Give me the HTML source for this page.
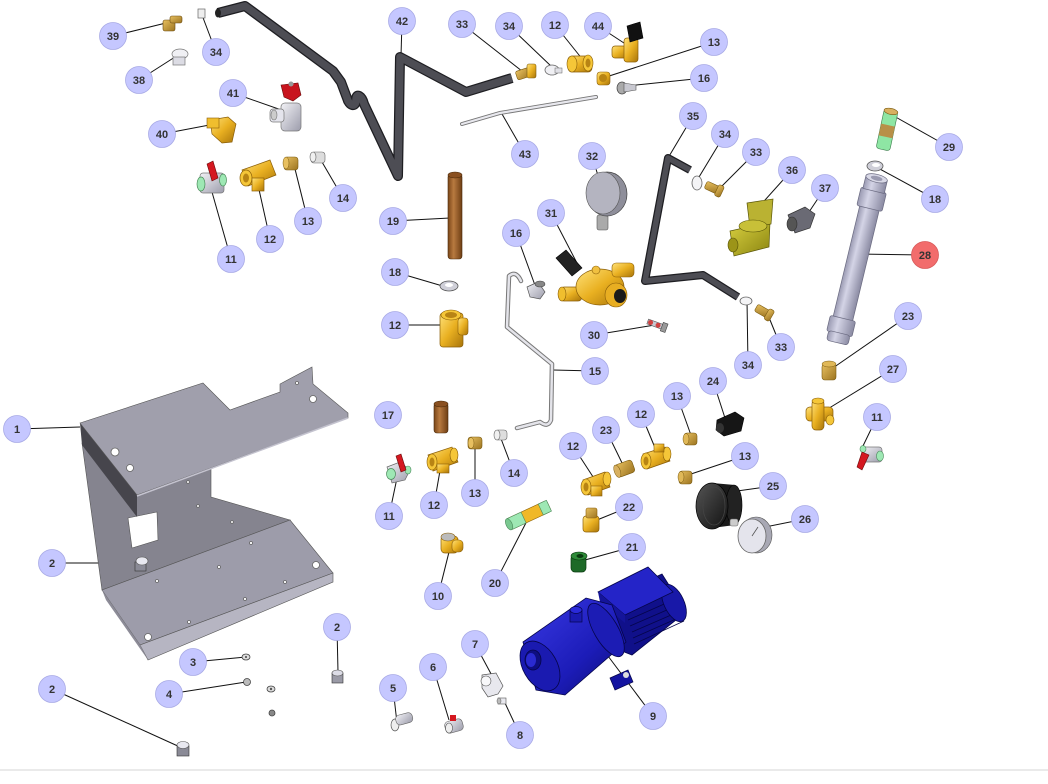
<!DOCTYPE html>
<html><head><meta charset="utf-8"><style>
html,body{margin:0;padding:0;background:#fff;}
svg{display:block;}
.c{fill:#c5c7ff;stroke:#a9abe6;stroke-width:0.8}
.r{fill:#f26c6c;stroke:#d85a5a;stroke-width:0.8}
.t{font-family:"Liberation Sans",sans-serif;font-weight:bold;font-size:11px;fill:#333;text-anchor:middle;}
.l{stroke:#111;stroke-width:1;fill:none}
.h{fill:#fff;stroke:#666;stroke-width:0.8}
</style></head><body>
<svg width="1048" height="784" viewBox="0 0 1048 784">
<defs>
<linearGradient id="br" x1="0" y1="0" x2="1" y2="1"><stop offset="0" stop-color="#ffe27a"/><stop offset=".5" stop-color="#e9b021"/><stop offset="1" stop-color="#a8740a"/></linearGradient>
<linearGradient id="br2" x1="0" y1="0" x2="1" y2="1"><stop offset="0" stop-color="#e8c060"/><stop offset="1" stop-color="#9c7420"/></linearGradient>
<linearGradient id="gy" x1="0" y1="0" x2="1" y2="1"><stop offset="0" stop-color="#f2f2f6"/><stop offset="1" stop-color="#9c9cab"/></linearGradient>
<linearGradient id="col" x1="0" y1="0" x2="1" y2="0"><stop offset="0" stop-color="#9a9ab2"/><stop offset=".35" stop-color="#d4d4e6"/><stop offset="1" stop-color="#8a8aa2"/></linearGradient>
<linearGradient id="bl" x1="0" y1="0" x2="1" y2="1"><stop offset="0" stop-color="#3a3ae6"/><stop offset=".6" stop-color="#1c1cb8"/><stop offset="1" stop-color="#0c0c70"/></linearGradient>
<linearGradient id="ol" x1="0" y1="0" x2="1" y2="1"><stop offset="0" stop-color="#d8d040"/><stop offset="1" stop-color="#8a8410"/></linearGradient>
<linearGradient id="cu" x1="0" y1="0" x2="1" y2="0"><stop offset="0" stop-color="#7a4618"/><stop offset=".4" stop-color="#b87a40"/><stop offset="1" stop-color="#6e3e14"/></linearGradient>
<linearGradient id="bk" x1="0" y1="0" x2="1" y2="1"><stop offset="0" stop-color="#555"/><stop offset="1" stop-color="#111"/></linearGradient>
</defs>

<line x1="0" y1="770" x2="1048" y2="770" stroke="#e4e4e4" stroke-width="1.5"/>

<g class="l">
<line x1="113" y1="36" x2="170" y2="22"/>
<line x1="216" y1="52" x2="202" y2="15"/>
<line x1="139" y1="80" x2="175" y2="57"/>
<line x1="233" y1="93" x2="290" y2="113"/>
<line x1="162" y1="134" x2="220" y2="123"/>
<line x1="231" y1="259" x2="210" y2="185"/>
<line x1="270" y1="239" x2="258" y2="185"/>
<line x1="308" y1="221" x2="294" y2="165"/>
<line x1="343" y1="198" x2="322" y2="162"/>
<line x1="402" y1="21" x2="401" y2="56"/>
<line x1="462" y1="24" x2="527" y2="75"/>
<line x1="509" y1="26" x2="552" y2="67"/>
<line x1="555" y1="25" x2="583" y2="60"/>
<line x1="598" y1="26" x2="627" y2="45"/>
<line x1="714" y1="42" x2="603" y2="78"/>
<line x1="704" y1="78" x2="626" y2="86"/>
<line x1="525" y1="154" x2="502" y2="114"/>
<line x1="693" y1="116" x2="668" y2="158"/>
<line x1="725" y1="134" x2="696" y2="182"/>
<line x1="756" y1="152" x2="718" y2="190"/>
<line x1="792" y1="170" x2="756" y2="210"/>
<line x1="825" y1="188" x2="805" y2="218"/>
<line x1="592" y1="156" x2="607" y2="205"/>
<line x1="551" y1="213" x2="578" y2="265"/>
<line x1="516" y1="233" x2="536" y2="288"/>
<line x1="393" y1="221" x2="450" y2="218"/>
<line x1="395" y1="272" x2="446" y2="287"/>
<line x1="395" y1="325" x2="450" y2="325"/>
<line x1="594" y1="335" x2="655" y2="325"/>
<line x1="595" y1="371" x2="553" y2="370"/>
<line x1="949" y1="147" x2="892" y2="115"/>
<line x1="935" y1="199" x2="878" y2="168"/>
<line x1="925" y1="255" x2="857" y2="254"/>
<line x1="908" y1="316" x2="830" y2="370"/>
<line x1="893" y1="369" x2="826" y2="410"/>
<line x1="877" y1="417" x2="862" y2="448"/>
<line x1="748" y1="365" x2="747" y2="300"/>
<line x1="781" y1="347" x2="768" y2="315"/>
<line x1="713" y1="381" x2="725" y2="418"/>
<line x1="677" y1="396" x2="692" y2="438"/>
<line x1="641" y1="414" x2="658" y2="455"/>
<line x1="606" y1="430" x2="624" y2="467"/>
<line x1="573" y1="446" x2="597" y2="483"/>
<line x1="745" y1="456" x2="685" y2="476"/>
<line x1="514" y1="473" x2="500" y2="436"/>
<line x1="475" y1="493" x2="475" y2="445"/>
<line x1="434" y1="505" x2="441" y2="465"/>
<line x1="389" y1="516" x2="397" y2="478"/>
<line x1="773" y1="486" x2="730" y2="492"/>
<line x1="805" y1="519" x2="760" y2="528"/>
<line x1="629" y1="507" x2="597" y2="520"/>
<line x1="632" y1="547" x2="585" y2="560"/>
<line x1="495" y1="583" x2="530" y2="515"/>
<line x1="438" y1="596" x2="450" y2="548"/>
<line x1="17" y1="429" x2="80" y2="427"/>
<line x1="52" y1="563" x2="140" y2="563"/>
<line x1="337" y1="627" x2="338" y2="672"/>
<line x1="193" y1="662" x2="246" y2="657"/>
<line x1="169" y1="694" x2="246" y2="682"/>
<line x1="52" y1="689" x2="180" y2="747"/>
<line x1="393" y1="688" x2="397" y2="723"/>
<line x1="433" y1="667" x2="449" y2="720"/>
<line x1="475" y1="644" x2="497" y2="685"/>
<line x1="520" y1="735" x2="505" y2="703"/>
<line x1="653" y1="716" x2="605" y2="652"/>
</g>

<!-- Part 1 plate -->
<polygon points="82,443 211,420 211,497 290,520 102,590" fill="#85848f" stroke="#555" stroke-width="0.6"/>
<polygon points="128,518 157,512 158,540 132,548" fill="#fff" stroke="#555" stroke-width="0.6"/>
<polygon points="80,423 137,495 137,517 82,445" fill="#46454c"/>
<polygon points="80,423 203,383 230,410 280,392 280,384 312,367 313,384 348,413 348,418 137,495" fill="#a09fac" stroke="#555" stroke-width="0.6"/>
<line x1="137" y1="496" x2="348" y2="418" stroke="#c4c3cf" stroke-width="1.5"/>
<polygon points="102,590 290,520 333,573 140,645" fill="#9d9caa" stroke="#555" stroke-width="0.6"/>
<polygon points="140,645 333,573 333,582 148,660" fill="#b6b5c2" stroke="#555" stroke-width="0.6"/>
<polygon points="102,590 140,645 148,660 106,600" fill="#8d8c98"/>
<circle cx="115" cy="452" r="4" class="h"/><circle cx="130" cy="468" r="3.5" class="h"/><circle cx="313" cy="399" r="3.5" class="h"/>
<circle cx="297" cy="383" r="1.5" class="h"/>
<circle cx="188" cy="482" r="1.4" class="h"/><circle cx="198" cy="506" r="1.4" class="h"/><circle cx="232" cy="522" r="1.4" class="h"/>
<circle cx="148" cy="637" r="3.5" class="h"/><circle cx="316" cy="565" r="3.5" class="h"/>
<circle cx="157" cy="581" r="1.5" class="h"/><circle cx="219" cy="567" r="1.5" class="h"/><circle cx="251" cy="543" r="1.5" class="h"/>
<circle cx="285" cy="582" r="1.5" class="h"/><circle cx="245" cy="599" r="1.5" class="h"/><circle cx="189" cy="622" r="1.5" class="h"/>
<g><rect x="135" y="562" width="11" height="9" fill="#8a8a96" stroke="#333" stroke-width="0.6"/><ellipse cx="142" cy="561" rx="6" ry="4" fill="#e8e8f0" stroke="#555" stroke-width="0.6"/></g>
<g><rect x="332" y="673" width="11" height="10" fill="#9a9aa6" stroke="#333" stroke-width="0.6"/><ellipse cx="337.5" cy="673" rx="5.5" ry="3" fill="#dcdce6" stroke="#555" stroke-width="0.6"/></g>
<g><rect x="177" y="746" width="12" height="10" fill="#8a8a96" stroke="#333" stroke-width="0.6"/><ellipse cx="183" cy="745" rx="6" ry="3.5" fill="#e8e8f0" stroke="#555" stroke-width="0.6"/></g>
<ellipse cx="246" cy="657" rx="4" ry="3" fill="#ddd" stroke="#444" stroke-width="0.8"/><circle cx="246" cy="657" r="1" fill="#444"/>
<ellipse cx="247" cy="682" rx="3.5" ry="3.5" fill="#bbb" stroke="#444" stroke-width="0.8"/>
<ellipse cx="271" cy="689" rx="4" ry="3" fill="#ddd" stroke="#444" stroke-width="0.8"/><circle cx="271" cy="689" r="1.2" fill="#555"/>
<circle cx="272" cy="713" r="3" fill="#888" stroke="#444" stroke-width="0.8"/>

<!-- Hoses -->
<path d="M218,13 L245,6 L333,71 L341,82 L347,98 C349,106 356,108 356,100 C356,92 362,96 364,104 L398,176 L400,57 L466,92 L512,78" fill="none" stroke="#1e1e22" stroke-width="10" stroke-linejoin="round"/>
<path d="M218,13 L245,6 L333,71 L341,82 L347,98 C349,106 356,108 356,100 C356,92 362,96 364,104 L398,176 L400,57 L466,92 L512,78" fill="none" stroke="#4d4d54" stroke-width="7.5" stroke-linejoin="round"/>
<ellipse cx="218" cy="13" rx="3" ry="4.5" fill="#222"/>
<path d="M690,170 L668,158 L645,281 L703,275 L738,297" fill="none" stroke="#1e1e22" stroke-width="8" stroke-linejoin="round"/>
<path d="M690,170 L668,158 L645,281 L703,275 L738,297" fill="none" stroke="#4d4d54" stroke-width="5.5" stroke-linejoin="round"/>
<path d="M462,124 L500,113 L596,97" fill="none" stroke="#777" stroke-width="4" stroke-linecap="round"/>
<path d="M462,124 L500,113 L596,97" fill="none" stroke="#e8e8ee" stroke-width="2.2" stroke-linecap="round"/>
<path d="M521,281 Q516,270 509,276 L507,327 L552,364 L551,420 Q548,428 540,422 L517,428" fill="none" stroke="#777" stroke-width="4.5" stroke-linecap="round" stroke-linejoin="round"/>
<path d="M521,281 Q516,270 509,276 L507,327 L552,364 L551,420 Q548,428 540,422 L517,428" fill="none" stroke="#e4e4ea" stroke-width="2.5" stroke-linecap="round" stroke-linejoin="round"/>

<!-- top-left parts -->
<g><rect x="163" y="20" width="12" height="11" rx="2" fill="url(#br2)" stroke="#6a4a10" stroke-width="0.6"/><rect x="170" y="16" width="12" height="7" rx="2" fill="url(#br2)" stroke="#6a4a10" stroke-width="0.6"/></g>
<rect x="198" y="9" width="7" height="9" fill="#eee" stroke="#666" stroke-width="0.7"/>
<g><ellipse cx="180" cy="54" rx="8" ry="5" fill="#f0f0f4" stroke="#777" stroke-width="0.7"/><rect x="173" y="57" width="12" height="8" fill="#dcdce4" stroke="#777" stroke-width="0.7"/></g>
<g><rect x="281" y="103" width="20" height="28" rx="4" fill="url(#gy)" stroke="#777" stroke-width="0.7"/><rect x="270" y="109" width="14" height="13" rx="3" fill="#e4e4ec" stroke="#777" stroke-width="0.7"/><ellipse cx="274" cy="115" rx="3" ry="5" fill="#ccc" stroke="#777" stroke-width="0.6"/><path d="M281,85 L298,83 L301,95 L293,101 L284,97 Z" fill="#c8141e" stroke="#6a0a0a" stroke-width="0.6"/><circle cx="291" cy="84" r="2.5" fill="#999"/></g>
<g><path d="M210,120 L228,117 L236,124 L232,142 L222,143 L212,134 Z" fill="url(#br)" stroke="#8a5e08" stroke-width="0.7"/><rect x="207" y="118" width="12" height="10" fill="#f0be2e" stroke="#8a5e08" stroke-width="0.6"/></g>
<g><rect x="200" y="173" width="24" height="20" rx="3" fill="url(#gy)" stroke="#777" stroke-width="0.7"/><ellipse cx="201" cy="184" rx="4" ry="7" fill="#9ee8b4" stroke="#4a8a5a" stroke-width="0.7"/><ellipse cx="223" cy="180" rx="3.5" ry="6" fill="#9ee8b4" stroke="#4a8a5a" stroke-width="0.7"/><path d="M207,164 L213,161 L218,178 L212,181 Z" fill="#d41820" stroke="#6a0a0a" stroke-width="0.6"/></g>
<g><path d="M242,170 L270,160 L276,175 L248,186 Z" fill="url(#br)" stroke="#8a5e08" stroke-width="0.7"/><ellipse cx="246" cy="178" rx="6" ry="8" fill="#f5c638" stroke="#8a5e08" stroke-width="0.7"/><ellipse cx="246" cy="178" rx="3" ry="4.5" fill="#b88414"/><rect x="252" y="178" width="12" height="13" fill="url(#br)" stroke="#8a5e08" stroke-width="0.7"/></g>
<g><rect x="284" y="157" width="14" height="13" rx="3" fill="url(#br2)" stroke="#7a5a10" stroke-width="0.6"/><ellipse cx="286" cy="163" rx="3" ry="6" fill="#e8c060" stroke="#7a5a10" stroke-width="0.5"/></g>
<g><rect x="311" y="152" width="14" height="11" rx="3" fill="#ddd" stroke="#666" stroke-width="0.6"/><ellipse cx="313" cy="157" rx="3" ry="5" fill="#f0f0f0" stroke="#666" stroke-width="0.6"/></g>

<!-- top-middle parts -->
<g><rect x="516" y="69" width="16" height="9" rx="2" fill="url(#br2)" stroke="#7a5a10" stroke-width="0.6" transform="rotate(-18 524 73)"/><rect x="527" y="64" width="9" height="14" rx="2" fill="url(#br)" stroke="#7a5a10" stroke-width="0.6"/></g>
<g><ellipse cx="552" cy="70" rx="7" ry="5" fill="#f0f0f4" stroke="#666" stroke-width="0.8"/><rect x="555" y="68" width="7" height="5" fill="#e0e0e6" stroke="#666" stroke-width="0.5"/></g>
<g><rect x="568" y="56" width="24" height="16" rx="4" fill="url(#br)" stroke="#8a5e08" stroke-width="0.7"/><ellipse cx="572" cy="64" rx="5" ry="8" fill="#f5c638" stroke="#8a5e08" stroke-width="0.6"/><ellipse cx="588" cy="63" rx="5" ry="8" fill="#f5c638" stroke="#8a5e08" stroke-width="0.6"/><ellipse cx="588" cy="63" rx="2.5" ry="4.5" fill="#b88414"/></g>
<g><rect x="612" y="46" width="16" height="12" rx="3" fill="url(#br)" stroke="#8a5e08" stroke-width="0.7"/><rect x="624" y="38" width="14" height="24" rx="3" fill="url(#br)" stroke="#8a5e08" stroke-width="0.7"/><path d="M627,26 L640,22 L643,38 L630,42 Z" fill="#111" stroke="#000" stroke-width="0.6"/></g>
<g><rect x="597" y="72" width="13" height="13" rx="3" fill="url(#br)" stroke="#8a5e08" stroke-width="0.6"/><ellipse cx="603" cy="78" rx="4" ry="4" fill="#b88414"/></g>
<g><ellipse cx="622" cy="88" rx="5" ry="6" fill="#aaa" stroke="#444" stroke-width="0.7"/><path d="M624,83 L636,85 L636,90 L624,92 Z" fill="#c8c8d0" stroke="#555" stroke-width="0.6"/></g>

<g><rect x="448" y="174" width="14" height="85" rx="3" fill="url(#cu)" stroke="#4a2a0a" stroke-width="0.6"/><ellipse cx="455" cy="175" rx="7" ry="3" fill="#8a5020" stroke="#4a2a0a" stroke-width="0.6"/></g>
<ellipse cx="449" cy="286" rx="9" ry="5" fill="#cfcfd8" stroke="#555" stroke-width="0.8"/><ellipse cx="449" cy="285" rx="4" ry="2" fill="#fff"/>
<g><rect x="440" y="313" width="23" height="34" rx="3" fill="url(#br)" stroke="#8a5e08" stroke-width="0.7"/><ellipse cx="451" cy="315" rx="10" ry="5" fill="#f5c638" stroke="#8a5e08" stroke-width="0.6"/><ellipse cx="451" cy="315" rx="6" ry="3" fill="#b88414"/><rect x="458" y="318" width="10" height="17" rx="3" fill="url(#br)" stroke="#8a5e08" stroke-width="0.6"/></g>

<g><rect x="597" y="215" width="11" height="15" rx="2" fill="#aaa" stroke="#555" stroke-width="0.6"/><ellipse cx="607" cy="194" rx="20" ry="22" fill="#8e8e9a" stroke="#444" stroke-width="0.7"/><ellipse cx="603" cy="193" rx="17" ry="21" fill="#b4b4c0" stroke="#555" stroke-width="0.6"/></g>
<g><path d="M556,258 L566,250 L582,268 L572,276 Z" fill="#222" stroke="#000" stroke-width="0.6"/><rect x="560" y="287" width="22" height="14" rx="4" fill="url(#br)" stroke="#8a5e08" stroke-width="0.7"/><ellipse cx="562" cy="294" rx="4" ry="7" fill="#f0be2e" stroke="#8a5e08" stroke-width="0.6"/><ellipse cx="600" cy="287" rx="24" ry="18" fill="url(#br)" stroke="#8a5e08" stroke-width="0.7"/><rect x="612" y="263" width="22" height="14" rx="4" fill="url(#br)" stroke="#8a5e08" stroke-width="0.6"/><ellipse cx="616" cy="295" rx="11" ry="12" fill="#e8ae22" stroke="#8a5e08" stroke-width="0.6"/><ellipse cx="620" cy="296" rx="6" ry="7" fill="#1a1a1a"/><circle cx="596" cy="270" r="4" fill="#f0c040" stroke="#8a5e08" stroke-width="0.6"/></g>
<g><path d="M527,287 L538,282 L545,292 L540,299 L530,297 Z" fill="url(#gy)" stroke="#555" stroke-width="0.7"/><ellipse cx="540" cy="284" rx="5" ry="3" fill="#888" stroke="#444" stroke-width="0.6"/></g>
<g transform="rotate(20 656 325)"><rect x="647" y="322" width="18" height="5" fill="#c8c8d0" stroke="#555" stroke-width="0.6"/><circle cx="650" cy="324.5" r="2.5" fill="#d04040"/><circle cx="658" cy="324.5" r="2.5" fill="#d04040"/><rect x="662" y="320" width="5" height="9" fill="#999" stroke="#444" stroke-width="0.6"/></g>

<g><ellipse cx="697" cy="183" rx="5" ry="7" fill="#f4f4f6" stroke="#666" stroke-width="0.8"/></g>
<g transform="rotate(25 713 188)"><rect x="705" y="184" width="14" height="8" rx="2" fill="url(#br2)" stroke="#7a5a10" stroke-width="0.6"/><rect x="717" y="182" width="6" height="12" rx="2" fill="url(#br2)" stroke="#7a5a10" stroke-width="0.6"/></g>
<g><polygon points="730,231 770,222 769,247 734,256" fill="url(#ol)" stroke="#5a5608" stroke-width="0.7"/><polygon points="747,203 773,199 771,224 750,228" fill="#bab232" stroke="#5a5608" stroke-width="0.7"/><ellipse cx="753" cy="226" rx="14" ry="6" fill="#c8c038" stroke="#5a5608" stroke-width="0.6"/><ellipse cx="733" cy="245" rx="5" ry="7" fill="#9c9418" stroke="#5a5608" stroke-width="0.6"/></g>
<g><path d="M788,215 L805,207 L815,214 L810,228 L795,233 Z" fill="#6a6a74" stroke="#333" stroke-width="0.7"/><ellipse cx="792" cy="224" rx="5" ry="7" fill="#555" stroke="#333" stroke-width="0.6"/></g>
<g><ellipse cx="746" cy="301" rx="6" ry="4" fill="#f4f4f6" stroke="#666" stroke-width="0.8"/></g>
<g transform="rotate(30 764 312)"><rect x="755" y="308" width="14" height="8" rx="2" fill="url(#br2)" stroke="#7a5a10" stroke-width="0.6"/><rect x="767" y="306" width="6" height="12" rx="2" fill="url(#br2)" stroke="#7a5a10" stroke-width="0.6"/></g>

<g transform="rotate(12 887 130)"><rect x="880" y="110" width="14" height="40" rx="3" fill="#8ee6a4" stroke="#3a7a4a" stroke-width="0.6"/><rect x="880" y="125" width="14" height="12" fill="#b89048"/><ellipse cx="887" cy="111" rx="7" ry="3" fill="#d8b060" stroke="#7a5a10" stroke-width="0.6"/></g>
<ellipse cx="875" cy="166" rx="8" ry="5" fill="#cfcfd8" stroke="#555" stroke-width="0.8"/><ellipse cx="876" cy="165" rx="4" ry="2" fill="#fff"/>
<g transform="translate(857,260) rotate(13.5)">
<rect x="-10" y="-55" width="20" height="118" fill="url(#col)" stroke="#6a6a80" stroke-width="0.7"/>
<rect x="-13" y="-72" width="26" height="19" rx="2" fill="url(#col)" stroke="#6a6a80" stroke-width="0.7"/>
<rect x="-11" y="-84" width="22" height="13" fill="url(#col)" stroke="#6a6a80" stroke-width="0.7"/>
<ellipse cx="0" cy="-84" rx="11" ry="4" fill="#d8d8e6" stroke="#6a6a80" stroke-width="0.7"/>
<ellipse cx="0" cy="-84" rx="6" ry="2.2" fill="#9a9ab0"/>
<rect x="-13" y="60" width="26" height="16" rx="2" fill="url(#col)" stroke="#6a6a80" stroke-width="0.7"/>
<rect x="-11" y="75" width="22" height="10" rx="3" fill="url(#col)" stroke="#6a6a80" stroke-width="0.7"/>
</g>
<g><rect x="822" y="364" width="14" height="16" rx="3" fill="url(#br2)" stroke="#7a5a10" stroke-width="0.6"/><ellipse cx="829" cy="364" rx="7" ry="3" fill="#e0b858" stroke="#7a5a10" stroke-width="0.5"/></g>
<g><rect x="806" y="407" width="27" height="14" rx="4" fill="url(#br)" stroke="#8a5e08" stroke-width="0.7"/><rect x="812" y="400" width="12" height="30" rx="4" fill="url(#br)" stroke="#8a5e08" stroke-width="0.7"/><ellipse cx="818" cy="401" rx="6" ry="3" fill="#f5c638" stroke="#8a5e08" stroke-width="0.6"/><ellipse cx="830" cy="420" rx="4" ry="5" fill="#f5c638" stroke="#8a5e08" stroke-width="0.6"/></g>
<g><rect x="862" y="447" width="20" height="15" rx="3" fill="url(#gy)" stroke="#777" stroke-width="0.7"/><ellipse cx="880" cy="456" rx="3.5" ry="5" fill="#9ee8b4" stroke="#4a8a5a" stroke-width="0.6"/><ellipse cx="863" cy="449" rx="3" ry="3.5" fill="#9ee8b4" stroke="#4a8a5a" stroke-width="0.6"/><path d="M862,452 L869,455 L862,470 L857,467 Z" fill="#d41820" stroke="#6a0a0a" stroke-width="0.6"/></g>

<!-- middle cluster -->
<g><rect x="434" y="403" width="14" height="30" rx="3" fill="url(#cu)" stroke="#4a2a0a" stroke-width="0.6"/><ellipse cx="441" cy="404" rx="7" ry="3" fill="#8a5020" stroke="#4a2a0a" stroke-width="0.6"/></g>
<g><path d="M387,467 L400,462 L410,470 L405,480 L392,483 Z" fill="url(#gy)" stroke="#666" stroke-width="0.7"/><ellipse cx="391" cy="474" rx="4.5" ry="5.5" fill="#9ee8b4" stroke="#4a8a5a" stroke-width="0.7"/><ellipse cx="408" cy="470" rx="3" ry="4" fill="#9ee8b4" stroke="#4a8a5a" stroke-width="0.6"/><path d="M396,456 L401,454 L406,470 L401,472 Z" fill="#d41820" stroke="#6a0a0a" stroke-width="0.6"/></g>
<g><path d="M428,455 L452,447 L458,462 L433,471 Z" fill="url(#br)" stroke="#8a5e08" stroke-width="0.7"/><ellipse cx="432" cy="462" rx="5" ry="8" fill="#f5c638" stroke="#8a5e08" stroke-width="0.6"/><ellipse cx="432" cy="462" rx="2.5" ry="4.5" fill="#b88414"/><ellipse cx="454" cy="455" rx="4" ry="7" fill="#f5c638" stroke="#8a5e08" stroke-width="0.6"/><rect x="437" y="464" width="12" height="9" fill="url(#br)" stroke="#8a5e08" stroke-width="0.6"/></g>
<g><rect x="468" y="437" width="14" height="12" rx="3" fill="url(#br2)" stroke="#7a5a10" stroke-width="0.6"/><ellipse cx="471" cy="443" rx="3" ry="5.5" fill="#e8c060" stroke="#7a5a10" stroke-width="0.5"/></g>
<g><rect x="495" y="430" width="12" height="10" rx="3" fill="#ddd" stroke="#666" stroke-width="0.6"/><ellipse cx="497" cy="435" rx="3" ry="5" fill="#f0f0f0" stroke="#666" stroke-width="0.6"/></g>
<g><rect x="441" y="536" width="17" height="17" rx="4" fill="url(#br)" stroke="#8a5e08" stroke-width="0.7"/><ellipse cx="448" cy="537" rx="7" ry="4" fill="#bbb" stroke="#8a5e08" stroke-width="0.6"/><rect x="452" y="540" width="11" height="12" rx="4" fill="url(#br)" stroke="#8a5e08" stroke-width="0.6"/></g>
<g transform="rotate(-25 529 515)"><rect x="507" y="509" width="44" height="12" rx="2" fill="#f0b828" stroke="#8a5e08" stroke-width="0.6"/><rect x="507" y="509" width="16" height="12" fill="#9ee8b4" stroke="#4a8a5a" stroke-width="0.6"/><rect x="542" y="509" width="9" height="12" fill="#9ee8b4" stroke="#4a8a5a" stroke-width="0.6"/><ellipse cx="507" cy="515" rx="3" ry="6" fill="#7ac890" stroke="#4a8a5a" stroke-width="0.6"/></g>
<g><path d="M583,480 L605,472 L610,487 L588,495 Z" fill="url(#br)" stroke="#8a5e08" stroke-width="0.7"/><ellipse cx="586" cy="487" rx="5" ry="8" fill="#f5c638" stroke="#8a5e08" stroke-width="0.6"/><ellipse cx="586" cy="487" rx="2.5" ry="4.5" fill="#b88414"/><ellipse cx="607" cy="479" rx="4" ry="7" fill="#f5c638" stroke="#8a5e08" stroke-width="0.6"/><rect x="591" y="486" width="11" height="10" fill="url(#br)" stroke="#8a5e08" stroke-width="0.6"/></g>
<g transform="rotate(-20 625 469)"><rect x="616" y="462" width="18" height="13" rx="3" fill="url(#br2)" stroke="#7a5a10" stroke-width="0.6"/><ellipse cx="617" cy="468.5" rx="3" ry="6.5" fill="#d8b060" stroke="#7a5a10" stroke-width="0.5"/></g>
<g><path d="M643,454 L665,447 L670,461 L647,469 Z" fill="url(#br)" stroke="#8a5e08" stroke-width="0.7"/><ellipse cx="646" cy="461" rx="5" ry="8" fill="#f5c638" stroke="#8a5e08" stroke-width="0.6"/><ellipse cx="646" cy="461" rx="2.5" ry="4.5" fill="#b88414"/><ellipse cx="667" cy="454" rx="4" ry="7" fill="#f5c638" stroke="#8a5e08" stroke-width="0.6"/><rect x="654" y="444" width="10" height="8" fill="url(#br)" stroke="#8a5e08" stroke-width="0.6"/></g>
<g><rect x="684" y="433" width="13" height="12" rx="3" fill="url(#br2)" stroke="#7a5a10" stroke-width="0.6"/><ellipse cx="686" cy="439" rx="3" ry="5.5" fill="#e0b858" stroke="#7a5a10" stroke-width="0.5"/></g>
<g><rect x="679" y="471" width="13" height="13" rx="3" fill="url(#br2)" stroke="#7a5a10" stroke-width="0.6"/><ellipse cx="681" cy="477" rx="3" ry="5.5" fill="#e0b858" stroke="#7a5a10" stroke-width="0.5"/></g>
<g><path d="M717,420 L735,412 L744,418 L741,431 L724,436 L716,430 Z" fill="#161616" stroke="#000" stroke-width="0.6"/><ellipse cx="720" cy="428" rx="4" ry="5" fill="#333"/></g>
<g><rect x="583" y="516" width="16" height="16" rx="3" fill="url(#br)" stroke="#8a5e08" stroke-width="0.7"/><rect x="586" y="508" width="11" height="10" rx="2" fill="url(#br2)" stroke="#8a5e08" stroke-width="0.6"/></g>
<g><rect x="571" y="555" width="15" height="17" rx="4" fill="#1e6a28" stroke="#0a3a10" stroke-width="0.7"/><ellipse cx="579" cy="556" rx="8" ry="4" fill="#2e8a38" stroke="#0a3a10" stroke-width="0.6"/><ellipse cx="580" cy="556" rx="3.5" ry="2" fill="#0a3a10"/></g>
<g><path d="M712,483 L735,485 Q742,503 735,525 L712,528 Z" fill="#1a1a1a"/><ellipse cx="734" cy="505" rx="8" ry="20" fill="#222" stroke="#000" stroke-width="0.6"/><ellipse cx="712" cy="506" rx="16" ry="23" fill="url(#bk)" stroke="#000" stroke-width="0.7"/><ellipse cx="714" cy="506" rx="11" ry="19" fill="none" stroke="#444" stroke-width="0.8"/></g>
<g><rect x="730" y="519" width="8" height="7" rx="2" fill="#ccc" stroke="#666" stroke-width="0.6"/><ellipse cx="756" cy="535" rx="16" ry="18" fill="#a8a8b4" stroke="#555" stroke-width="0.6"/><ellipse cx="752" cy="536" rx="14" ry="17" fill="#e4e4ec" stroke="#666" stroke-width="0.8"/><line x1="752" y1="536" x2="758" y2="527" stroke="#555" stroke-width="0.8"/></g>

<!-- bottom small parts -->
<g><ellipse cx="395" cy="725" rx="4" ry="6" fill="#eee" stroke="#555" stroke-width="0.7"/><rect x="396" y="716" width="17" height="10" rx="4" fill="url(#gy)" stroke="#666" stroke-width="0.6" transform="rotate(-15 396 721)"/></g>
<g><rect x="445" y="720" width="18" height="12" rx="4" fill="url(#gy)" stroke="#666" stroke-width="0.6" transform="rotate(-15 454 726)"/><ellipse cx="449" cy="728" rx="3.5" ry="5" fill="#eee" stroke="#555" stroke-width="0.6"/><rect x="450" y="715" width="6" height="6" fill="#d41820"/></g>
<g><path d="M482,675 L496,673 L503,686 L498,694 L488,697 L482,688 Z" fill="#e8e8ee" stroke="#555" stroke-width="0.7"/><ellipse cx="486" cy="681" rx="5" ry="5" fill="#f8f8fa" stroke="#555" stroke-width="0.6"/></g>
<g><rect x="498" y="698" width="8" height="6" fill="#e8e8ee" stroke="#555" stroke-width="0.6"/><ellipse cx="499" cy="701" rx="2" ry="3" fill="#bbb" stroke="#555" stroke-width="0.5"/></g>

<!-- 9 motor pump -->
<g>
<polygon points="605,600 662,574 686,612 632,655 614,648" fill="#10108a" stroke="#05054a" stroke-width="0.8"/>
<g stroke="#05054a" stroke-width="0.8">
<line x1="628" y1="620" x2="680" y2="597"/><line x1="630" y1="626" x2="683" y2="603"/><line x1="632" y1="632" x2="685" y2="609"/><line x1="633" y1="638" x2="685" y2="615"/><line x1="634" y1="644" x2="684" y2="621"/>
</g>
<ellipse cx="674" cy="603" rx="10" ry="20" fill="#1818a8" stroke="#05054a" stroke-width="0.8" transform="rotate(-25 674 603)"/>
<polygon points="598,592 648,567 673,592 625,615" fill="#2424c8" stroke="#05054a" stroke-width="0.8"/>
<polygon points="598,592 625,615 625,623 600,602" fill="#14149a"/>
<polygon points="523,642 586,598 612,605 626,642 565,695 536,690" fill="url(#bl)" stroke="#05054a" stroke-width="0.8"/>
<ellipse cx="606" cy="630" rx="12" ry="30" fill="#1c1cb4" stroke="#05054a" stroke-width="0.8" transform="rotate(-30 606 630)"/>
<ellipse cx="540" cy="666" rx="17" ry="27" fill="#1a1ab0" stroke="#05054a" stroke-width="0.8" transform="rotate(-30 540 666)"/>
<ellipse cx="533" cy="660" rx="8" ry="10" fill="#0e0e80" stroke="#05054a" stroke-width="0.8"/>
<ellipse cx="531" cy="660" rx="5" ry="7" fill="#2a2ad0"/>
<rect x="570" y="610" width="12" height="12" fill="#1a1ab0" stroke="#05054a" stroke-width="0.7"/>
<ellipse cx="576" cy="610" rx="6" ry="3.5" fill="#2a2ad8" stroke="#05054a" stroke-width="0.7"/>
<polygon points="610,678 628,670 633,682 615,690" fill="#1414a0" stroke="#05054a" stroke-width="0.7"/>
<circle cx="626" cy="675" r="3" fill="#ddd"/>
</g>

<!-- callouts -->
<g>
<circle class="c" cx="113" cy="36" r="13.5"/><text class="t" x="113" y="40">39</text>
<circle class="c" cx="216" cy="52" r="13.5"/><text class="t" x="216" y="56">34</text>
<circle class="c" cx="139" cy="80" r="13.5"/><text class="t" x="139" y="84">38</text>
<circle class="c" cx="233" cy="93" r="13.5"/><text class="t" x="233" y="97">41</text>
<circle class="c" cx="162" cy="134" r="13.5"/><text class="t" x="162" y="138">40</text>
<circle class="c" cx="231" cy="259" r="13.5"/><text class="t" x="231" y="263">11</text>
<circle class="c" cx="270" cy="239" r="13.5"/><text class="t" x="270" y="243">12</text>
<circle class="c" cx="308" cy="221" r="13.5"/><text class="t" x="308" y="225">13</text>
<circle class="c" cx="343" cy="198" r="13.5"/><text class="t" x="343" y="202">14</text>
<circle class="c" cx="402" cy="21" r="13.5"/><text class="t" x="402" y="25">42</text>
<circle class="c" cx="462" cy="24" r="13.5"/><text class="t" x="462" y="28">33</text>
<circle class="c" cx="509" cy="26" r="13.5"/><text class="t" x="509" y="30">34</text>
<circle class="c" cx="555" cy="25" r="13.5"/><text class="t" x="555" y="29">12</text>
<circle class="c" cx="598" cy="26" r="13.5"/><text class="t" x="598" y="30">44</text>
<circle class="c" cx="714" cy="42" r="13.5"/><text class="t" x="714" y="46">13</text>
<circle class="c" cx="704" cy="78" r="13.5"/><text class="t" x="704" y="82">16</text>
<circle class="c" cx="525" cy="154" r="13.5"/><text class="t" x="525" y="158">43</text>
<circle class="c" cx="693" cy="116" r="13.5"/><text class="t" x="693" y="120">35</text>
<circle class="c" cx="725" cy="134" r="13.5"/><text class="t" x="725" y="138">34</text>
<circle class="c" cx="756" cy="152" r="13.5"/><text class="t" x="756" y="156">33</text>
<circle class="c" cx="792" cy="170" r="13.5"/><text class="t" x="792" y="174">36</text>
<circle class="c" cx="825" cy="188" r="13.5"/><text class="t" x="825" y="192">37</text>
<circle class="c" cx="592" cy="156" r="13.5"/><text class="t" x="592" y="160">32</text>
<circle class="c" cx="551" cy="213" r="13.5"/><text class="t" x="551" y="217">31</text>
<circle class="c" cx="516" cy="233" r="13.5"/><text class="t" x="516" y="237">16</text>
<circle class="c" cx="393" cy="221" r="13.5"/><text class="t" x="393" y="225">19</text>
<circle class="c" cx="395" cy="272" r="13.5"/><text class="t" x="395" y="276">18</text>
<circle class="c" cx="395" cy="325" r="13.5"/><text class="t" x="395" y="329">12</text>
<circle class="c" cx="594" cy="335" r="13.5"/><text class="t" x="594" y="339">30</text>
<circle class="c" cx="595" cy="371" r="13.5"/><text class="t" x="595" y="375">15</text>
<circle class="c" cx="949" cy="147" r="13.5"/><text class="t" x="949" y="151">29</text>
<circle class="c" cx="935" cy="199" r="13.5"/><text class="t" x="935" y="203">18</text>
<circle class="r" cx="925" cy="255" r="13.5"/><text class="t" x="925" y="259">28</text>
<circle class="c" cx="908" cy="316" r="13.5"/><text class="t" x="908" y="320">23</text>
<circle class="c" cx="893" cy="369" r="13.5"/><text class="t" x="893" y="373">27</text>
<circle class="c" cx="877" cy="417" r="13.5"/><text class="t" x="877" y="421">11</text>
<circle class="c" cx="748" cy="365" r="13.5"/><text class="t" x="748" y="369">34</text>
<circle class="c" cx="781" cy="347" r="13.5"/><text class="t" x="781" y="351">33</text>
<circle class="c" cx="713" cy="381" r="13.5"/><text class="t" x="713" y="385">24</text>
<circle class="c" cx="677" cy="396" r="13.5"/><text class="t" x="677" y="400">13</text>
<circle class="c" cx="641" cy="414" r="13.5"/><text class="t" x="641" y="418">12</text>
<circle class="c" cx="606" cy="430" r="13.5"/><text class="t" x="606" y="434">23</text>
<circle class="c" cx="573" cy="446" r="13.5"/><text class="t" x="573" y="450">12</text>
<circle class="c" cx="745" cy="456" r="13.5"/><text class="t" x="745" y="460">13</text>
<circle class="c" cx="388" cy="415" r="13.5"/><text class="t" x="388" y="419">17</text>
<circle class="c" cx="514" cy="473" r="13.5"/><text class="t" x="514" y="477">14</text>
<circle class="c" cx="475" cy="493" r="13.5"/><text class="t" x="475" y="497">13</text>
<circle class="c" cx="434" cy="505" r="13.5"/><text class="t" x="434" y="509">12</text>
<circle class="c" cx="389" cy="516" r="13.5"/><text class="t" x="389" y="520">11</text>
<circle class="c" cx="773" cy="486" r="13.5"/><text class="t" x="773" y="490">25</text>
<circle class="c" cx="805" cy="519" r="13.5"/><text class="t" x="805" y="523">26</text>
<circle class="c" cx="629" cy="507" r="13.5"/><text class="t" x="629" y="511">22</text>
<circle class="c" cx="632" cy="547" r="13.5"/><text class="t" x="632" y="551">21</text>
<circle class="c" cx="495" cy="583" r="13.5"/><text class="t" x="495" y="587">20</text>
<circle class="c" cx="438" cy="596" r="13.5"/><text class="t" x="438" y="600">10</text>
<circle class="c" cx="17" cy="429" r="13.5"/><text class="t" x="17" y="433">1</text>
<circle class="c" cx="52" cy="563" r="13.5"/><text class="t" x="52" y="567">2</text>
<circle class="c" cx="337" cy="627" r="13.5"/><text class="t" x="337" y="631">2</text>
<circle class="c" cx="193" cy="662" r="13.5"/><text class="t" x="193" y="666">3</text>
<circle class="c" cx="169" cy="694" r="13.5"/><text class="t" x="169" y="698">4</text>
<circle class="c" cx="52" cy="689" r="13.5"/><text class="t" x="52" y="693">2</text>
<circle class="c" cx="393" cy="688" r="13.5"/><text class="t" x="393" y="692">5</text>
<circle class="c" cx="433" cy="667" r="13.5"/><text class="t" x="433" y="671">6</text>
<circle class="c" cx="475" cy="644" r="13.5"/><text class="t" x="475" y="648">7</text>
<circle class="c" cx="520" cy="735" r="13.5"/><text class="t" x="520" y="739">8</text>
<circle class="c" cx="653" cy="716" r="13.5"/><text class="t" x="653" y="720">9</text>
</g>
</svg>
</body></html>
